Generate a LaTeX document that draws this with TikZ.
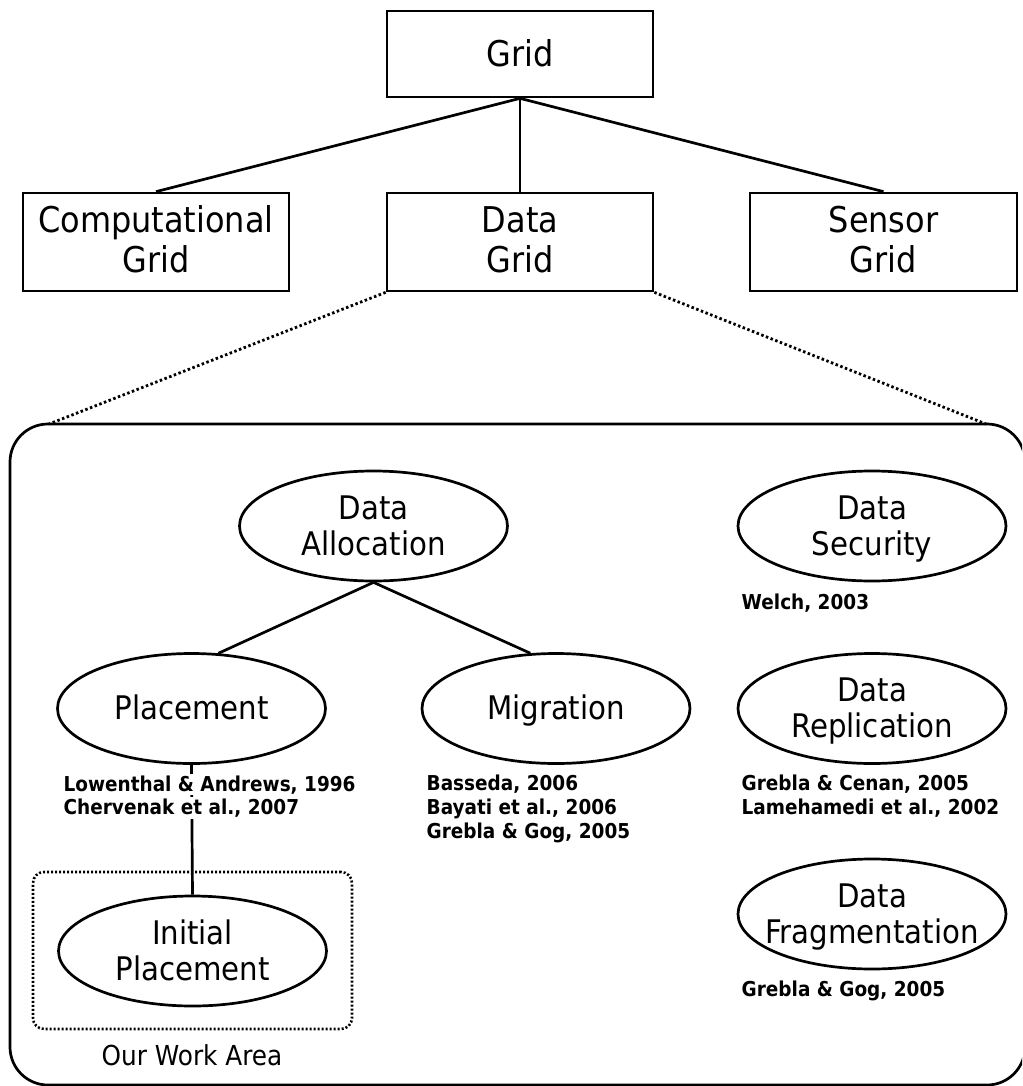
\documentclass[tikz,border=0pt]{standalone}
\usepackage{fontspec}
\setmainfont{DejaVu Sans}[FakeStretch=0.9]
\usetikzlibrary{shapes.geometric}
\begin{document}
\begin{tikzpicture}[x=1pt,y=-1pt,
  lw/.style={line width=2.7pt},
  gbox/.style={draw, lw, inner sep=0pt, minimum width=266pt, minimum height=98pt},
  gell/.style={draw, lw, ellipse, inner sep=0pt, minimum width=268pt, minimum height=110pt},
  btext/.style={align=center, inner sep=0pt, font=\fontsize{35.5}{38.5}\selectfont},
  etext/.style={align=center, inner sep=0pt, font=\fontsize{32.5}{36}\selectfont},
  reftext/.style={anchor=base west, inner sep=1.5pt, fill=white, font=\bfseries\fontsize{20.5}{24}\selectfont},
  conn/.style={lw},
  zoomline/.style={line width=2.8pt, dash pattern=on 2.5pt off 2.5pt},
  workline/.style={line width=2.6pt, dash pattern=on 2pt off 2pt},
]
\useasboundingbox (0,0) rectangle (1022,1086);
\clip (0,0) rectangle (1022,1086);

% top level boxes
\node[gbox, minimum height=86pt] (grid) at (520,54) {};
\node[btext] (gridt) at (520,59) {Grid\strut};
\node[gbox] (comp) at (156,242) {};
\node[btext] (compt) at (156,244.9) {Computational\strut\\Grid\strut};
\node[gbox] (dgrid) at (520,242) {};
\node[btext] (dgridt) at (520,244.9) {Data\strut\\Grid\strut};
\node[gbox, minimum width=267pt] (sens) at (883.5,242) {};
\node[btext] (senst) at (883.5,244.9) {Sensor\strut\\Grid\strut};

\draw[conn] (grid.south) -- (comp.north);
\draw[conn] (grid.south) -- (dgrid.north);
\draw[conn] (grid.south) -- (sens.north);

% zoom area
\node[draw, lw, rounded corners=38pt, inner sep=0pt, minimum width=1015pt, minimum height=661pt] (area) at (517.5,754.5) {};
\coordinate (al) at (49,424);
\coordinate (ar) at (986,424);
\draw[zoomline] (dgrid.south west) -- (al);
\draw[zoomline] (dgrid.south east) -- (ar);

% ellipses
\node[gell] (da) at (373.5,526) {};
\node[etext] (dat) at (373.5,529.8) {Data\strut\\Allocation\strut};
\node[gell] (sec) at (872,526) {};
\node[etext] (sect) at (872,529.8) {Data\strut\\Security\strut};
\node[gell] (pl) at (191.5,708.5) {};
\node[etext] (plt) at (191.5,712.3) {Placement\strut};
\node[gell] (mig) at (556,708.5) {};
\node[etext] (migt) at (556,712.3) {Migration\strut};
\node[gell] (rep) at (872,708.5) {};
\node[etext] (rept) at (872,712.3) {Data\strut\\Replication\strut};
\node[gell] (frag) at (872,914) {};
\node[etext] (fragt) at (872,917.8) {Data\strut\\Fragmentation\strut};

\node[draw, workline, rounded corners=11pt, inner sep=0pt, minimum width=319pt, minimum height=157pt] (work) at (192.5,950.5) {};
\node[gell] (ip) at (192.5,951) {};
\node[etext] (ipt) at (192.5,954.8) {Initial\strut\\Placement\strut};
\node[anchor=base, inner sep=0pt, font=\fontsize{27.5}{30}\selectfont] (workt) at (192,1065) {Our Work Area};

\draw[conn] (da.south) -- (pl.64.5);
\draw[conn] (da.south) -- (mig.115.5);
\draw[conn] (pl.south) -- (ip.north);

% references
\node[reftext] (r1) at (62,791) {Lowenthal \& Andrews, 1996};
\node[reftext] (r2) at (62,814.5) {Chervenak et al., 2007};
\node[reftext] (r3) at (425,790.5) {Basseda, 2006};
\node[reftext] (r4) at (425,814.5) {Bayati et al., 2006};
\node[reftext] (r5) at (425,838.5) {Grebla \& Gog, 2005};
\node[reftext] (r6) at (740,609) {Welch, 2003};
\node[reftext] (r7) at (740,790.5) {Grebla \& Cenan, 2005};
\node[reftext] (r8) at (740,814.5) {Lamehamedi et al., 2002};
\node[reftext] (r9) at (740,996.5) {Grebla \& Gog, 2005};
\end{tikzpicture}
\end{document}
